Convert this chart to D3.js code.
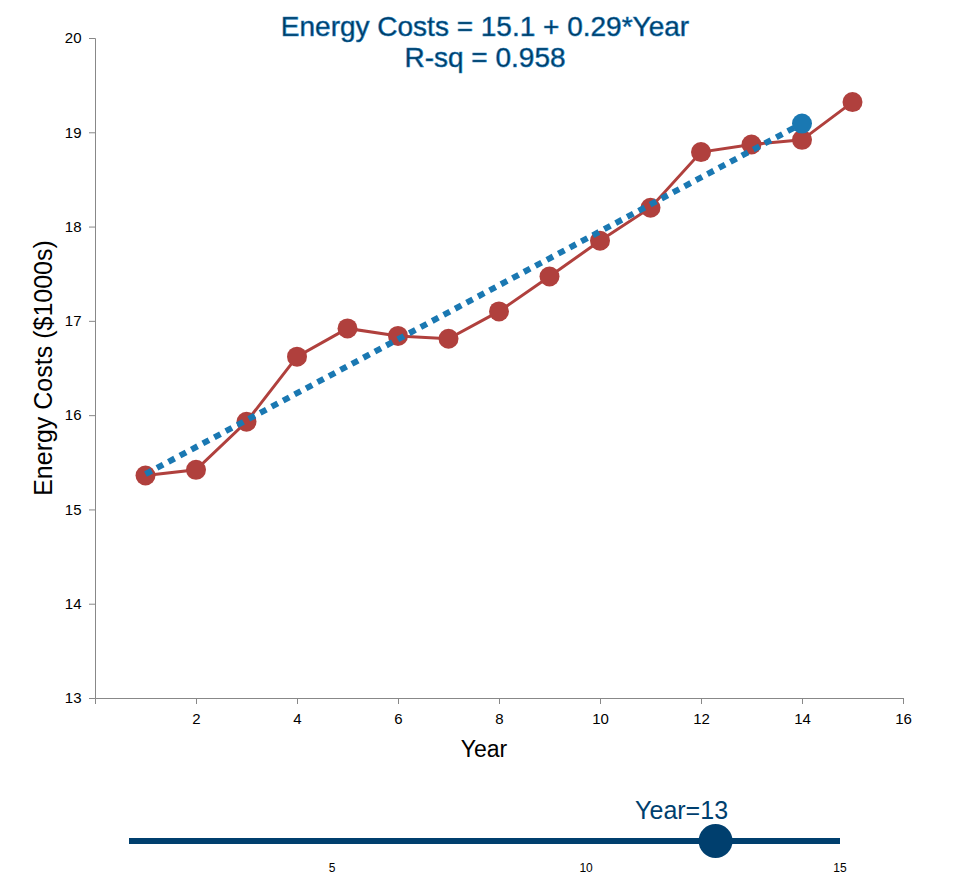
<!DOCTYPE html>
<html>
<head>
<meta charset="utf-8">
<script src="https://cdn.jsdelivr.net/npm/d3@7"></script>
<style>
  body { margin: 0; background: #fff; font-family: Helvetica, Arial, "Liberation Sans", sans-serif; }
  .axis path, .axis line { stroke: #888; }
  .axis text { fill: #000; font-size: 15px; font-family: Helvetica, Arial, "Liberation Sans", sans-serif; }
</style>
</head>
<body>
<svg id="chart" width="954" height="892"></svg>
<script>
// Yearly energy costs ($1000s)
const years = [1, 2, 3, 4, 5, 6, 7, 8, 9, 10, 11, 12, 13, 14, 15];
const costs = [15.36, 15.42, 15.93, 16.62, 16.92, 16.84, 16.81, 17.10, 17.47, 17.85, 18.20, 18.79, 18.87, 18.92, 19.32];
const xTicks = [2, 4, 6, 8, 10, 12, 14, 16];
const yTicks = [13, 14, 15, 16, 17, 18, 19, 20];
const sliderTicks = [5, 10, 15];
const sliderValue = 12.55;
const titleLines = ["Energy Costs = 15.1 + 0.29*Year", "R-sq = 0.958"];

const data = years.map((y, i) => ({ year: y, cost: costs[i] }));
const selYear = Math.round(sliderValue);

// least squares fit on years up to the slider year
const fitData = data.filter((d) => d.year <= selYear);
const mx = d3.mean(fitData, (d) => d.year);
const my = d3.mean(fitData, (d) => d.cost);
const slope =
  d3.sum(fitData, (d) => (d.year - mx) * (d.cost - my)) /
  d3.sum(fitData, (d) => (d.year - mx) ** 2);
const intercept = my - slope * mx;
const predYear = selYear + 1;
const fitLine = [1, predYear].map((x) => ({ year: x, cost: intercept + slope * x }));

const svg = d3.select("#chart");
const margin = { top: 38, right: 51, bottom: 194, left: 95 };
const width = 954 - margin.left - margin.right;
const height = 892 - margin.top - margin.bottom;
const g = svg.append("g").attr("transform", `translate(${margin.left},${margin.top})`);

const x = d3.scaleLinear().domain([0, 16]).range([0, width]);
const y = d3.scaleLinear().domain([13, 20]).range([height, 0]);

g.append("g")
  .attr("class", "axis")
  .attr("transform", `translate(0,${height})`)
  .call(d3.axisBottom(x).tickValues(xTicks).tickFormat(d3.format("d")))
  .selectAll("text")
  .attr("dy", "1.1em");

g.append("g")
  .attr("class", "axis")
  .call(d3.axisLeft(y).tickValues(yTicks).tickFormat(d3.format("d")))
  .selectAll("text")
  .attr("dx", "-0.3em");

const line = d3.line().x((d) => x(d.year)).y((d) => y(d.cost));

g.append("path")
  .datum(data)
  .attr("fill", "none")
  .attr("stroke", "#b0403d")
  .attr("stroke-width", 3)
  .attr("d", line);

g.selectAll("circle.pt")
  .data(data)
  .enter()
  .append("circle")
  .attr("class", "pt")
  .attr("cx", (d) => x(d.year))
  .attr("cy", (d) => y(d.cost))
  .attr("r", 10)
  .attr("fill", "#b0403d");

g.append("path")
  .datum(fitLine)
  .attr("fill", "none")
  .attr("stroke", "#1a78b2")
  .attr("stroke-width", 6)
  .attr("stroke-dasharray", "7,6")
  .attr("d", line);

g.append("circle")
  .attr("cx", x(predYear))
  .attr("cy", y(fitLine[1].cost))
  .attr("r", 10)
  .attr("fill", "#1a78b2");

// title, two lines
svg.selectAll("text.title")
  .data(titleLines)
  .enter()
  .append("text")
  .attr("class", "title")
  .attr("x", 485)
  .attr("y", (d, i) => 36 + i * 31)
  .attr("text-anchor", "middle")
  .attr("font-size", 28)
  .attr("fill", "#003a5f")
  .attr("stroke", "#1f7fc0")
  .attr("stroke-width", 0.6)
  .text((d) => d);

// axis labels
svg.append("text")
  .attr("x", 484)
  .attr("y", 757)
  .attr("text-anchor", "middle")
  .attr("font-size", 23)
  .attr("fill", "#000")
  .text("Year");

svg.append("text")
  .attr("transform", `translate(52,${margin.top + height / 2}) rotate(-90)`)
  .attr("text-anchor", "middle")
  .attr("font-size", 25)
  .attr("fill", "#000")
  .text("Energy Costs ($1000s)");

// slider
const sx = d3.scaleLinear().domain([1, 15]).range([129, 840]);
const slider = svg.append("g").attr("transform", "translate(0,841)");

slider.append("line")
  .attr("x1", sx.range()[0])
  .attr("x2", sx.range()[1])
  .attr("stroke", "#003f6e")
  .attr("stroke-width", 6);

slider.selectAll("text.tick")
  .data(sliderTicks)
  .enter()
  .append("text")
  .attr("class", "tick")
  .attr("x", (d) => sx(d))
  .attr("y", 31)
  .attr("text-anchor", "middle")
  .attr("font-size", 12)
  .attr("fill", "#000")
  .text((d) => d);

slider.append("circle")
  .attr("cx", sx(sliderValue))
  .attr("r", 17)
  .attr("fill", "#003f6e");

slider.append("text")
  .attr("x", sx(sliderValue) - 34)
  .attr("y", -22)
  .attr("text-anchor", "middle")
  .attr("font-size", 25)
  .attr("fill", "#003f6e")
  .text("Year=" + selYear);
</script>
</body>
</html>
